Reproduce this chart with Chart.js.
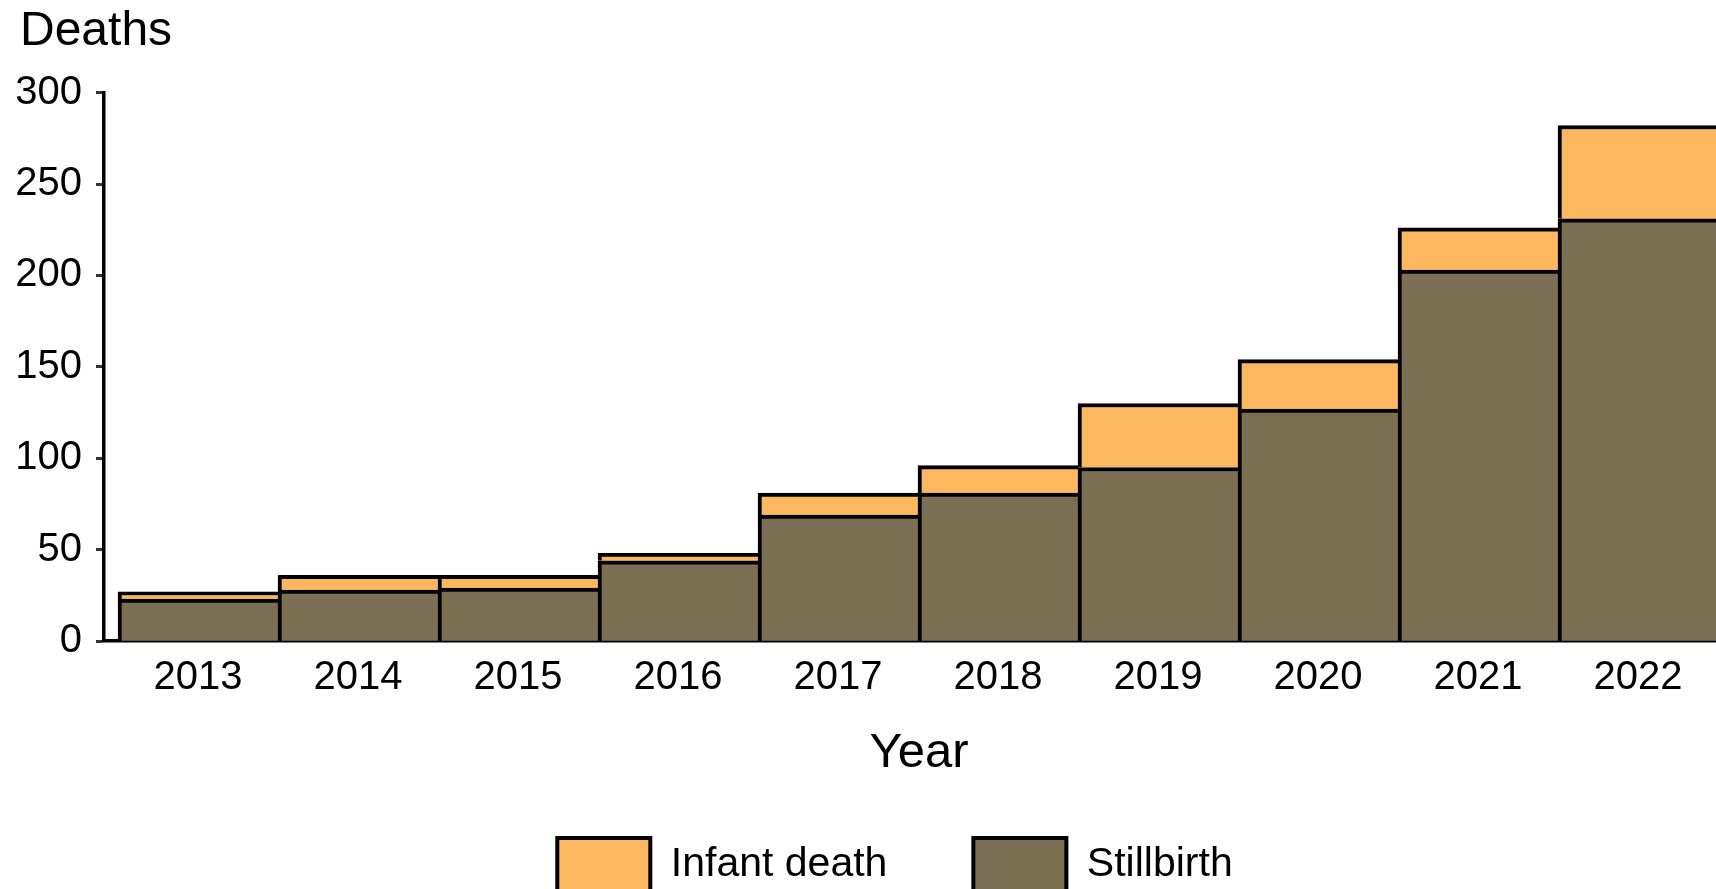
<!DOCTYPE html>
<html>
<head>
<meta charset="utf-8">
<script src="https://cdn.jsdelivr.net/npm/chart.js@4"></script>
<style>
  html, body { margin: 0; padding: 0; background: #fff; overflow: hidden; }
  #wrap { width: 1766px; height: 902px; }
</style>
</head>
<body>
<div id="wrap"><canvas id="chart" width="1766" height="902"></canvas></div>
<script>
const years = [2013, 2014, 2015, 2016, 2017, 2018, 2019, 2020, 2021, 2022];
const stillbirth = [23, 28, 29, 44, 69, 81, 95, 127, 203, 231];
const infantDeath = [4, 8, 7, 4, 12, 15, 35, 27, 23, 51];
const yTicks = [0, 50, 100, 150, 200, 250, 300];

const fontFamily = '"Liberation Sans", Arial, sans-serif';
const barBorder = {top: 4, left: 4, right: 0, bottom: 0};

const toPoints = values => years.map((year, i) => ({x: year, y: values[i]}));

// nudge title and legend to where the original puts them
const nudgeBoxes = {
	id: 'nudgeBoxes',
	afterLayout: chart => {
		chart.titleBlock.left += 4;
		chart.titleBlock.right += 4;
		chart.legend.left += 20;
		chart.legend.right += 20;
	}
};

const data = {
	datasets: [{
		label: 'Stillbirth',
		data: toPoints(stillbirth),
		backgroundColor: '#7a6f52',
		borderColor: '#000',
		borderWidth: barBorder,
		categoryPercentage: 1,
		barPercentage: 1
	}, {
		label: 'Infant death',
		data: toPoints(infantDeath),
		backgroundColor: '#fdb85f',
		borderColor: '#000',
		borderWidth: barBorder,
		categoryPercentage: 1,
		barPercentage: 1
	}]
};

const config = {
	type: 'bar',
	data,
	plugins: [nudgeBoxes],
	options: {
		responsive: false,
		animation: false,
		layout: {
			padding: {left: 16, right: 32, top: 0, bottom: 0}
		},
		plugins: {
			tooltip: {enabled: false},
			title: {
				display: true,
				text: 'Deaths',
				align: 'start',
				color: '#000',
				font: {family: fontFamily, size: 48, weight: 'normal'},
				padding: {top: 3, bottom: 32}
			},
			legend: {
				position: 'bottom',
				reverse: true,
				labels: {
					boxWidth: 93,
					boxHeight: 54,
					padding: 86,
					color: '#000',
					font: {family: fontFamily, size: 41},
					generateLabels: chart => Chart.defaults.plugins.legend.labels.generateLabels(chart)
						.map(item => ({...item, lineWidth: 4, strokeStyle: '#000'}))
				}
			}
		},
		scales: {
			x: {
				type: 'linear',
				stacked: true,
				offset: false,
				bounds: 'data',
				min: 2012.4125,
				max: 2022.6,
				afterBuildTicks: axis => { axis.ticks = years.map(v => ({value: v})); },
				ticks: {
					color: '#000',
					padding: 13,
					autoSkip: false,
					maxRotation: 0,
					font: {family: fontFamily, size: 40},
					callback: value => String(value)
				},
				grid: {offset: false, drawOnChartArea: false, drawTicks: false},
				border: {color: '#000', width: 3.5},
				title: {
					display: true,
					text: 'Year',
					color: '#000',
					font: {family: fontFamily, size: 49},
					padding: {top: 9, bottom: -31}
				}
			},
			y: {
				stacked: true,
				min: 0,
				max: 300,
				afterBuildTicks: axis => { axis.ticks = yTicks.map(v => ({value: v})); },
				afterFit: axis => { axis.width = 88; },
				ticks: {
					color: '#000',
					padding: 14,
					font: {family: fontFamily, size: 40}
				},
				grid: {
					drawOnChartArea: false,
					drawTicks: true,
					tickLength: 8,
					tickColor: '#333',
					tickWidth: 3
				},
				border: {color: '#000', width: 3.5}
			}
		}
	}
};

new Chart(document.getElementById('chart'), config);
</script>
</body>
</html>
